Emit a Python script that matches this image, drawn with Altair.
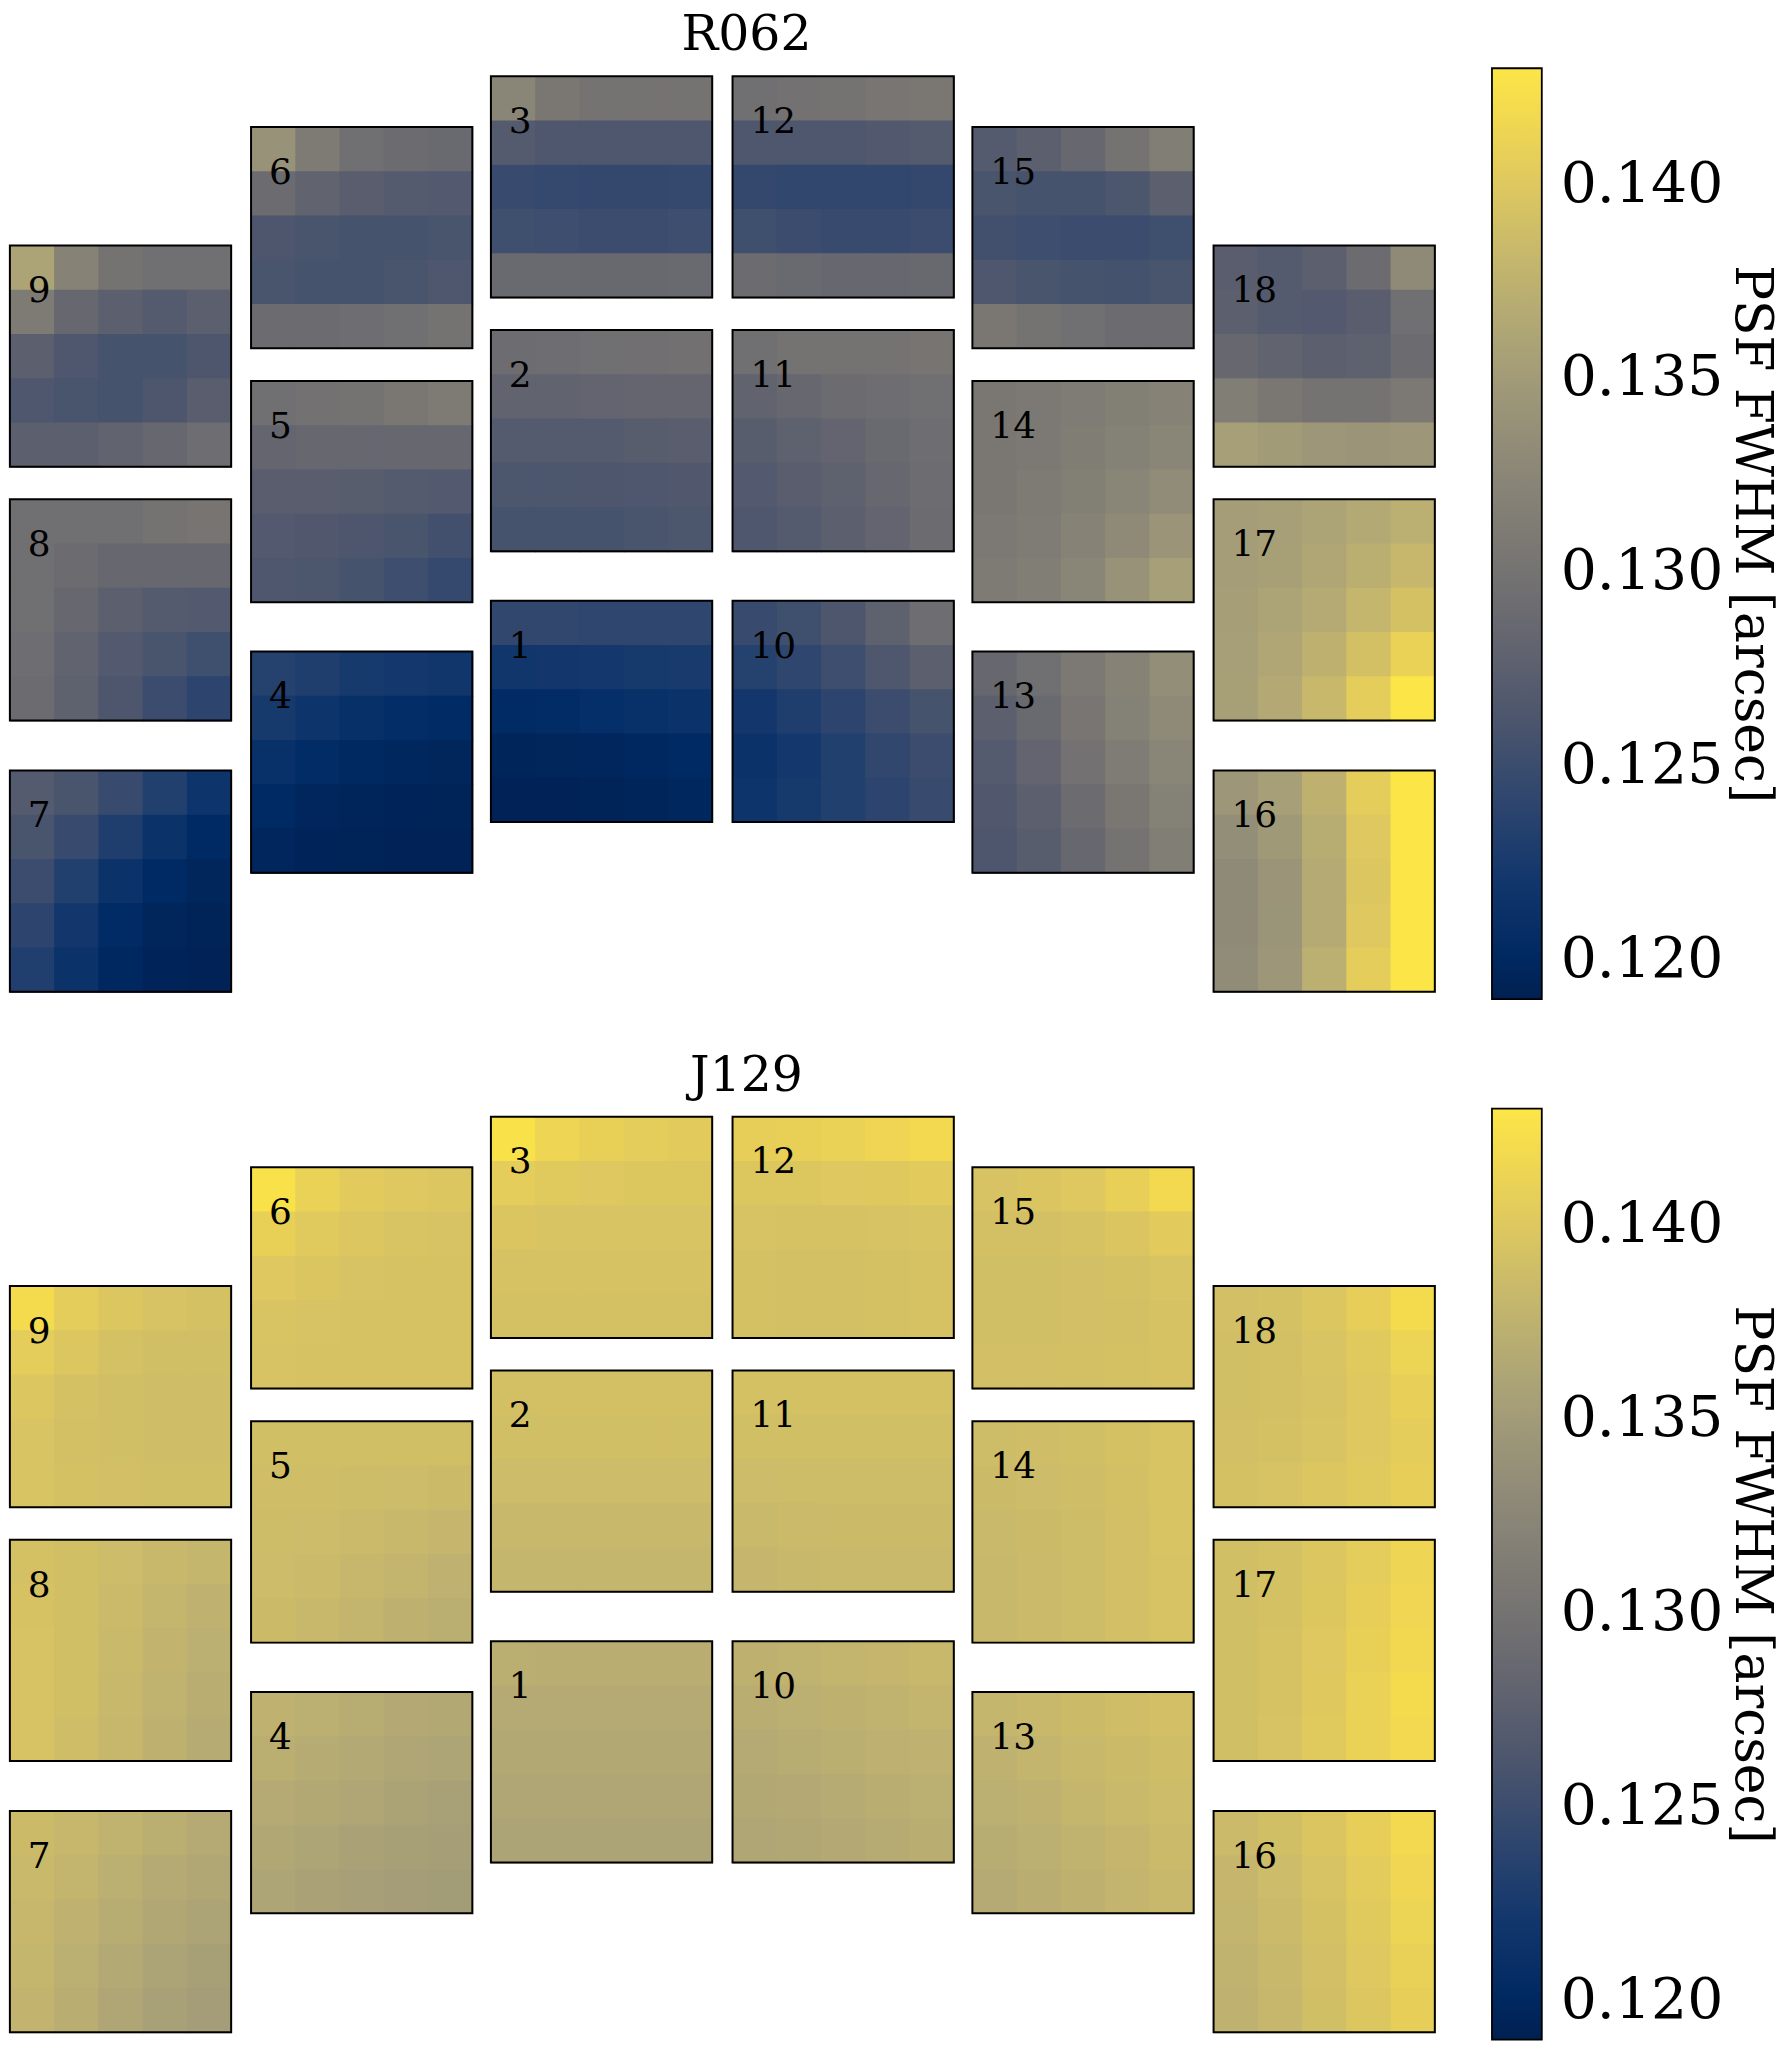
import altair as alt
import pandas as pd

# ---------------- data ----------------
# SCA (detector) ids and centres in focal-plane units (1 unit = one detector side)
SCA_IDS = list(range(1, 19))
SCA_X = [-0.546, -0.546, -0.546, -1.630, -1.630, -1.630, -2.720, -2.720, -2.720,
         0.546, 0.546, 0.546, 1.630, 1.630, 1.630, 2.720, 2.720, 2.720]
SCA_Y = [-0.948, 0.276, 1.423, -1.177, 0.046, 1.194, -1.715, -0.489, 0.658,
         -0.948, 0.276, 1.423, -1.177, 0.046, 1.194, -1.715, -0.489, 0.658]

# PSF FWHM maps (milli-arcsec), 5x5 samples per SCA, rows top -> bottom
R062 = {
    1: [[124.3, 124.3, 124.2, 124.2, 124.2], [122.0, 122.2, 122.3, 122.5, 122.6], [120.5, 120.7, 121.0, 121.3, 121.5], [119.6, 119.7, 119.8, 120.0, 120.3], [119.3, 119.3, 119.4, 119.6, 119.9]],
    2: [[129.2, 129.3, 129.5, 129.6, 129.7], [128.0, 128.0, 128.2, 128.3, 128.3], [127.0, 127.0, 127.0, 127.2, 127.3], [126.2, 126.2, 126.3, 126.5, 126.6], [125.8, 125.8, 125.8, 126.0, 126.2]],
    3: [[132.5, 130.5, 130.0, 130.0, 130.0], [127.0, 126.5, 126.5, 126.5, 126.5], [124.8, 124.6, 124.5, 124.5, 124.6], [125.3, 125.2, 125.0, 125.0, 125.2], [128.8, 128.8, 128.7, 128.7, 128.8]],
    4: [[123.5, 123.0, 122.5, 122.3, 122.0], [122.5, 121.8, 121.2, 120.8, 120.5], [121.3, 120.6, 120.1, 119.9, 119.7], [120.3, 119.8, 119.6, 119.5, 119.4], [119.8, 119.5, 119.4, 119.3, 119.3]],
    5: [[129.5, 129.8, 130.0, 130.5, 131.0], [128.3, 128.5, 128.5, 128.5, 128.5], [127.3, 127.3, 127.2, 127.0, 126.8], [126.8, 126.6, 126.3, 126.0, 125.5], [126.5, 126.2, 125.8, 125.2, 124.6]],
    6: [[134.0, 131.0, 129.5, 129.0, 128.8], [129.0, 128.0, 127.3, 127.0, 126.8], [126.3, 126.0, 125.8, 125.8, 126.0], [126.0, 125.8, 125.8, 126.0, 126.5], [129.0, 129.0, 129.3, 129.5, 130.0]],
    7: [[127.0, 126.0, 124.8, 123.3, 121.8], [126.0, 124.8, 123.0, 121.5, 120.3], [125.0, 123.3, 121.5, 120.3, 119.7], [124.0, 122.2, 120.5, 119.7, 119.4], [123.2, 121.5, 120.0, 119.5, 119.3]],
    8: [[129.5, 129.5, 129.5, 130.0, 130.2], [129.5, 129.0, 128.5, 128.5, 128.5], [129.5, 128.5, 127.5, 127.0, 126.8], [129.3, 128.0, 126.8, 126.0, 125.3], [129.0, 127.8, 126.3, 125.0, 124.0]],
    9: [[136.0, 132.0, 130.0, 129.5, 129.5], [131.0, 128.5, 127.5, 127.0, 127.5], [127.5, 126.5, 125.8, 125.8, 126.3], [126.5, 126.0, 125.8, 126.3, 127.3], [127.5, 127.5, 128.0, 128.5, 129.3]],
    10: [[124.8, 125.3, 126.3, 127.8, 129.3], [123.5, 124.2, 125.2, 126.5, 127.5], [122.2, 123.0, 124.0, 125.0, 125.8], [121.5, 122.3, 123.3, 124.3, 125.0], [121.8, 122.5, 123.3, 124.0, 124.8]],
    11: [[129.5, 130.0, 130.0, 130.0, 130.2], [128.0, 128.5, 129.0, 129.3, 129.5], [127.2, 127.8, 128.2, 128.8, 129.3], [126.8, 127.3, 127.8, 128.5, 129.2], [126.5, 127.0, 127.5, 128.2, 129.0]],
    12: [[129.5, 129.8, 130.0, 130.3, 130.6], [126.5, 126.5, 126.5, 126.7, 127.0], [124.5, 124.3, 124.3, 124.3, 124.5], [125.3, 125.0, 124.8, 124.8, 125.0], [129.0, 128.8, 128.6, 128.6, 128.7]],
    13: [[128.5, 129.5, 130.8, 132.0, 133.5], [127.5, 128.8, 130.3, 131.8, 133.0], [127.0, 128.2, 129.8, 131.2, 132.5], [126.6, 127.6, 129.0, 130.5, 131.8], [126.3, 127.2, 128.5, 130.0, 131.5]],
    14: [[130.5, 130.8, 131.2, 131.6, 132.0], [130.5, 130.8, 131.3, 131.8, 132.5], [130.6, 131.0, 131.6, 132.3, 133.2], [130.8, 131.2, 132.0, 133.0, 134.3], [131.0, 131.5, 132.5, 134.0, 135.5]],
    15: [[127.0, 127.5, 128.5, 130.0, 131.5], [126.0, 125.8, 125.8, 126.2, 127.5], [125.5, 125.2, 125.0, 125.0, 125.3], [126.5, 126.0, 125.8, 125.7, 126.0], [130.5, 130.0, 129.5, 129.0, 129.0]],
    16: [[134.5, 135.5, 137.5, 140.5, 143.0], [133.5, 134.8, 137.0, 140.0, 143.0], [133.0, 134.3, 136.8, 139.8, 143.0], [133.0, 134.2, 136.8, 140.0, 143.0], [133.2, 134.5, 137.3, 140.5, 143.0]],
    17: [[135.3, 135.5, 136.0, 136.6, 137.3], [135.3, 135.6, 136.3, 137.2, 138.2], [135.4, 136.0, 136.8, 138.0, 139.3], [135.5, 136.3, 137.5, 139.2, 141.0], [135.6, 136.7, 138.3, 140.5, 143.0]],
    18: [[127.3, 127.0, 127.5, 129.0, 133.0], [127.5, 127.0, 126.8, 127.3, 129.5], [128.5, 128.0, 127.5, 127.8, 129.0], [131.5, 130.5, 130.0, 130.0, 130.8], [135.5, 135.0, 134.5, 134.3, 134.5]],
}

J129 = {
    1: [[137.2, 137.1, 137.1, 137.1, 137.1], [136.8, 136.8, 136.8, 136.8, 136.8], [136.5, 136.5, 136.5, 136.5, 136.5], [136.2, 136.2, 136.2, 136.2, 136.2], [136.0, 136.0, 136.0, 136.0, 136.0]],
    2: [[139.2, 139.2, 139.2, 139.2, 139.2], [139.0, 139.0, 139.0, 139.0, 139.0], [138.7, 138.7, 138.7, 138.7, 138.7], [138.3, 138.3, 138.3, 138.3, 138.3], [138.0, 138.0, 138.0, 138.0, 138.0]],
    3: [[142.5, 141.3, 140.8, 140.5, 140.3], [140.5, 140.2, 140.0, 139.9, 139.9], [139.7, 139.6, 139.6, 139.6, 139.6], [139.4, 139.4, 139.4, 139.4, 139.4], [139.3, 139.3, 139.3, 139.3, 139.3]],
    4: [[137.6, 137.3, 137.0, 136.7, 136.5], [137.2, 136.9, 136.6, 136.3, 136.1], [136.8, 136.5, 136.2, 135.9, 135.7], [136.4, 136.1, 135.8, 135.6, 135.4], [136.1, 135.8, 135.5, 135.3, 135.2]],
    5: [[139.0, 139.0, 139.0, 139.0, 139.0], [138.9, 138.9, 138.8, 138.7, 138.6], [138.8, 138.7, 138.5, 138.3, 138.1], [138.7, 138.5, 138.2, 137.9, 137.6], [138.6, 138.3, 137.9, 137.5, 137.2]],
    6: [[142.5, 141.0, 140.3, 140.0, 139.8], [140.8, 140.2, 139.8, 139.6, 139.5], [140.0, 139.7, 139.5, 139.4, 139.4], [139.6, 139.5, 139.4, 139.4, 139.4], [139.5, 139.4, 139.4, 139.4, 139.4]],
    7: [[138.6, 138.2, 137.7, 137.2, 136.8], [138.4, 137.9, 137.3, 136.8, 136.4], [138.2, 137.6, 137.0, 136.4, 136.0], [138.0, 137.3, 136.6, 136.0, 135.6], [137.8, 137.1, 136.3, 135.7, 135.3]],
    8: [[139.3, 139.0, 138.7, 138.3, 138.0], [139.4, 139.0, 138.5, 138.0, 137.6], [139.5, 139.0, 138.4, 137.8, 137.3], [139.5, 139.0, 138.3, 137.7, 137.1], [139.5, 138.9, 138.2, 137.5, 136.9]],
    9: [[142.0, 140.5, 139.8, 139.5, 139.3], [140.5, 139.8, 139.3, 139.0, 139.0], [139.8, 139.3, 139.0, 138.9, 138.9], [139.6, 139.2, 139.0, 138.9, 138.9], [139.6, 139.3, 139.1, 139.0, 139.0]],
    10: [[137.5, 137.7, 137.9, 138.1, 138.3], [137.1, 137.3, 137.5, 137.7, 137.9], [136.8, 137.0, 137.2, 137.4, 137.6], [136.5, 136.7, 136.9, 137.1, 137.3], [136.2, 136.4, 136.7, 136.9, 137.1]],
    11: [[139.3, 139.3, 139.3, 139.3, 139.3], [139.0, 139.0, 139.0, 139.0, 139.0], [138.7, 138.8, 138.8, 138.8, 138.8], [138.4, 138.5, 138.6, 138.6, 138.6], [138.1, 138.3, 138.4, 138.4, 138.4]],
    12: [[140.6, 140.8, 141.0, 141.4, 141.8], [139.9, 139.9, 140.0, 140.1, 140.3], [139.5, 139.4, 139.4, 139.5, 139.6], [139.3, 139.2, 139.2, 139.3, 139.4], [139.3, 139.2, 139.2, 139.3, 139.4]],
    13: [[138.0, 138.3, 138.6, 138.9, 139.1], [137.6, 137.9, 138.3, 138.6, 138.9], [137.3, 137.6, 138.0, 138.4, 138.7], [137.0, 137.3, 137.7, 138.1, 138.5], [136.8, 137.1, 137.5, 137.9, 138.3]],
    14: [[138.8, 138.9, 139.0, 139.3, 139.6], [138.6, 138.7, 138.9, 139.2, 139.6], [138.4, 138.6, 138.8, 139.1, 139.6], [138.3, 138.5, 138.8, 139.1, 139.5], [138.3, 138.5, 138.8, 139.1, 139.5]],
    15: [[139.5, 139.7, 140.0, 140.7, 141.8], [139.2, 139.2, 139.4, 139.7, 140.3], [139.0, 139.0, 139.1, 139.3, 139.6], [139.0, 139.0, 139.1, 139.2, 139.4], [139.1, 139.1, 139.2, 139.3, 139.4]],
    16: [[138.5, 139.0, 139.7, 140.6, 141.8], [138.1, 138.7, 139.5, 140.4, 141.5], [137.9, 138.5, 139.3, 140.2, 141.2], [137.7, 138.3, 139.1, 140.0, 140.9], [137.6, 138.2, 139.0, 139.8, 140.6]],
    17: [[139.0, 139.3, 139.8, 140.5, 141.3], [139.0, 139.3, 139.9, 140.6, 141.5], [139.0, 139.4, 140.0, 140.8, 141.7], [139.0, 139.4, 140.1, 141.0, 142.0], [139.0, 139.5, 140.2, 141.0, 141.8]],
    18: [[139.1, 139.3, 139.8, 140.6, 142.0], [139.0, 139.2, 139.6, 140.2, 141.2], [139.0, 139.2, 139.5, 140.0, 140.7], [139.1, 139.3, 139.6, 140.0, 140.5], [139.3, 139.5, 139.8, 140.2, 140.6]],
}

CBAR_DOMAIN = [0.1190, 0.1430]
CBAR_TICKS = [0.120, 0.125, 0.130, 0.135, 0.140]
CBAR_TITLE = "PSF FWHM [arcsec]"
PANEL_TITLES = ["R062", "J129"]

FONT = "DejaVu Serif"
EPS = 0.004  # tiny overlap between neighbouring cells to hide anti-aliasing seams


def build_cells(grids):
    rows = []
    for i, sca in enumerate(SCA_IDS):
        cx, cy = SCA_X[i], SCA_Y[i]
        g = grids[sca]
        n = len(g)
        for r in range(n):
            for c in range(len(g[r])):
                rows.append({
                    "sca": sca,
                    "x": cx - 0.5 + c / n, "x2": cx - 0.5 + (c + 1) / n + EPS,
                    "y": cy + 0.5 - (r + 1) / n - EPS, "y2": cy + 0.5 - r / n,
                    "fwhm": g[r][c] / 1000.0,
                })
    return pd.DataFrame(rows)


frames = pd.DataFrame({
    "sca": [str(s) for s in SCA_IDS],
    "x0": [x - 0.5 for x in SCA_X], "x1": [x + 0.5 for x in SCA_X],
    "y0": [y - 0.5 for y in SCA_Y], "y1": [y + 0.5 for y in SCA_Y],
})

xs = alt.Scale(domain=[-3.224, 3.262], nice=False, zero=False)
ys = alt.Scale(domain=[-2.257, 1.977], nice=False, zero=False)

# the colour-bar title is carried by a bare right-hand y axis
yaxis = alt.Axis(
    orient="right", labels=False, ticks=False, domain=False, grid=False,
    title=CBAR_TITLE, titleFont=FONT, titleFontSize=52, titleFontWeight="normal",
    titleColor="black", titleAngle=90, titleAlign="center", titleBaseline="middle",
    titleX=308, titleY=471, titleLimit=2000,
)


def panel(name, grids):
    cells = build_cells(grids)
    cscale = alt.Scale(scheme="cividis", domain=CBAR_DOMAIN, clamp=True, zero=False, nice=False)
    heat = alt.Chart(cells).mark_rect(strokeWidth=0).encode(
        x=alt.X("x:Q", scale=xs, axis=None),
        x2="x2",
        y=alt.Y("y:Q", scale=ys, axis=yaxis),
        y2="y2",
        color=alt.Color(
            "fwhm:Q", scale=cscale,
            legend=alt.Legend(
                type="gradient",
                orient="none", legendX=1488, legendY=4, direction="vertical",
                gradientLength=934, gradientThickness=50,
                gradientStrokeColor="black", gradientStrokeWidth=1.8,
                values=CBAR_TICKS, format=".3f",
                labelFont=FONT, labelFontSize=57, labelOffset=19, labelColor="black",
                labelOverlap=False, title=None, padding=0,
            ),
        ),
    )
    border = alt.Chart(frames).mark_rect(filled=False, stroke="black", strokeWidth=2).encode(
        x=alt.X("x0:Q", scale=xs, axis=None), x2="x1",
        y=alt.Y("y0:Q", scale=ys, axis=yaxis), y2="y1",
    )
    labels = alt.Chart(frames).mark_text(
        align="left", baseline="alphabetic", dx=18, dy=57,
        font=FONT, fontSize=36, color="black",
    ).encode(
        x=alt.X("x0:Q", scale=xs, axis=None),
        y=alt.Y("y1:Q", scale=ys, axis=yaxis),
        text="sca:N",
    )
    return alt.layer(heat, border, labels).properties(
        width=1440, height=940,
        title=alt.TitleParams(name, font=FONT, fontSize=49, fontWeight="normal",
                              anchor="middle", frame="group", dx=20, color="black"),
    )


chart = alt.vconcat(
    panel(PANEL_TITLES[0], R062), panel(PANEL_TITLES[1], J129), spacing=51
).resolve_scale(color="independent").resolve_legend(
    color="independent"
).properties(padding=0).configure(background="white").configure_view(stroke=None)

chart.save("out.html", embed_options={"renderer": "svg", "actions": False})
